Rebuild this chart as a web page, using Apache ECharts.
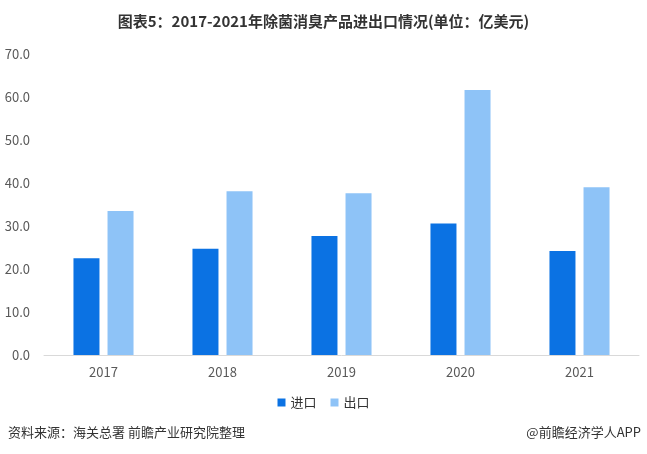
<!DOCTYPE html>
<html><head><meta charset="utf-8">
<script src="https://cdn.jsdelivr.net/npm/echarts@6/dist/echarts.min.js"></script>
<style>html,body{margin:0;padding:0;background:#fff}#c{width:647px;height:454px}</style>
</head><body><div id="c"></div>
<script>
const categories = ['2017','2018','2019','2020','2021'];
const importValues = [22.5, 24.7, 27.7, 30.6, 24.2];
const exportValues = [33.5, 38.1, 37.6, 61.6, 39.0];
const seriesNames = ['进口','出口'];
const titleText = '图表5：2017-2021年除菌消臭产品进出口情况(单位：亿美元)';
const sourceText = '资料来源：海关总署 前瞻产业研究院整理';
const creditText = '@前瞻经济学人APP';

const chart = echarts.init(document.getElementById('c'), null, {renderer:'canvas'});
const font = '"Noto Sans CJK SC", "Noto Sans", sans-serif';
chart.setOption({
  animation:false,
  backgroundColor:'#fff',
  textStyle:{fontFamily:font},
  title:{text:titleText,left:'center',top:9,textStyle:{fontSize:15,fontWeight:'bold',color:'#333',fontFamily:font}},
  grid:{left:44,right:8,top:54,bottom:99,containLabel:false},
  legend:{data:seriesNames,bottom:40,left:'center',itemWidth:8,itemHeight:8,itemGap:14,icon:'rect',
    textStyle:{fontSize:13,color:'#333'}},
  xAxis:{type:'category',data:categories,axisTick:{show:false},
    axisLine:{lineStyle:{color:'#d9d9d9'}},axisLabel:{color:'#595959',fontSize:13,margin:11}},
  yAxis:{type:'value',min:0,max:70,interval:10,splitLine:{show:false},
    axisLabel:{formatter:v=>v.toFixed(1),color:'#595959',fontSize:13,margin:14}},
  series:[
    {name:seriesNames[0],type:'bar',data:importValues,barWidth:26,barGap:'31%',itemStyle:{color:'#0b72e3'}},
    {name:seriesNames[1],type:'bar',data:exportValues,barWidth:26,itemStyle:{color:'#8ec3f7'}}
  ],
  graphic:[
    {type:'text',left:8,top:426,style:{text:sourceText,fontSize:13,fill:'#333',fontFamily:font}},
    {type:'text',right:6,top:426,style:{text:creditText,fontSize:13,fill:'#333',fontFamily:font}}
  ]
});
</script></body></html>
